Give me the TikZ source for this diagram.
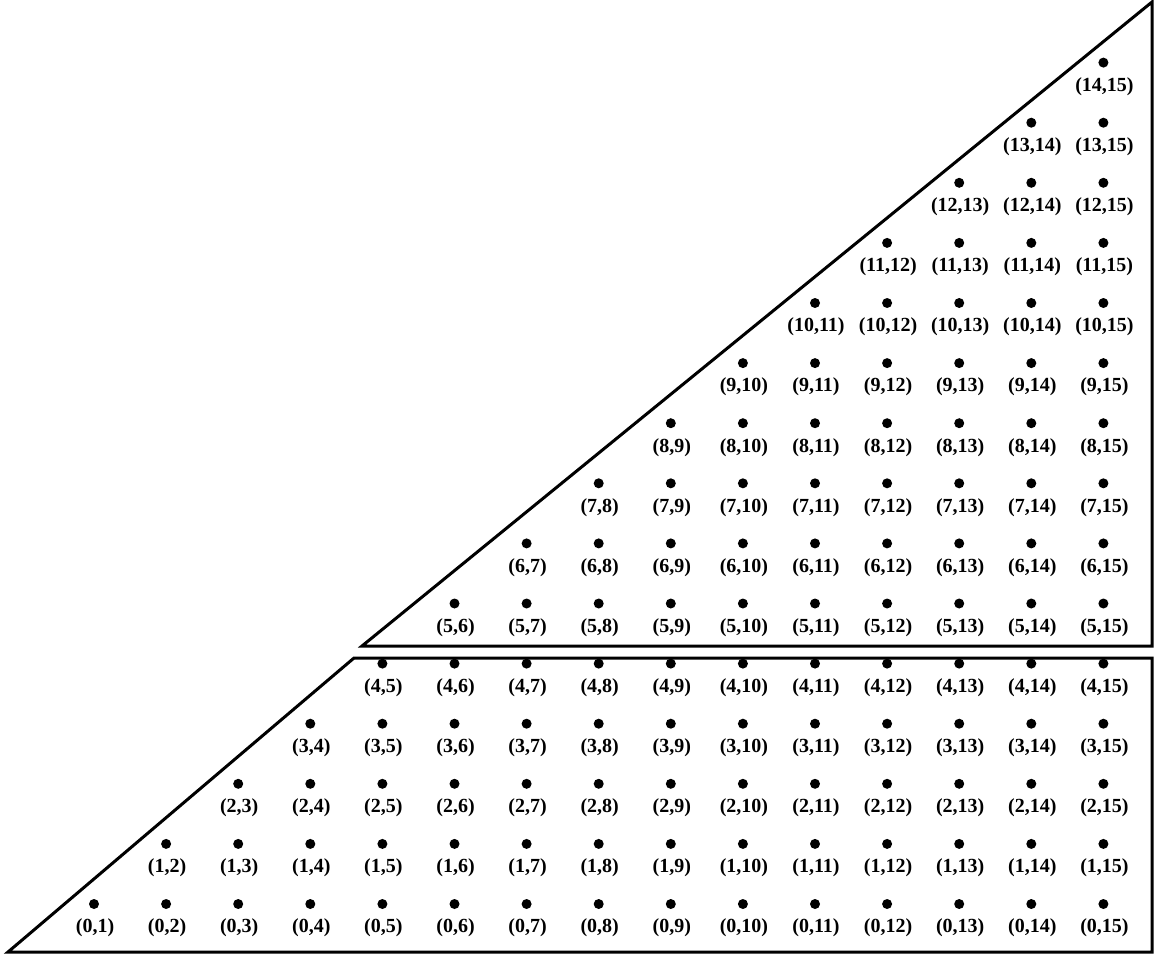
\documentclass[tikz,border=0pt]{standalone}
\usepackage{fontspec}
\setmainfont{Liberation Serif}
\begin{document}
\begin{tikzpicture}[x=1pt,y=-1pt,
  pt/.style={circle,fill=black,inner sep=0pt,minimum size=10pt},
  lab/.style={font=\bfseries\fontsize{20}{20}\selectfont,inner sep=0pt},
  frame/.style={line width=3pt,line join=miter}]
\useasboundingbox (0,0) rectangle (1158,955);
\draw[frame] (1152,2) -- (1152,646) -- (362,646) -- cycle;
\draw[frame] (354,658) -- (1152,658) -- (1152,952) -- (8,952) -- cycle;
\foreach \i in {0,...,14} {
  \pgfmathtruncatemacro\s{\i+1}
  \foreach \j in {\s,...,15} {
    \node[pt] (p\i-\j) at ({94+72.1*(\j-1)},{904-60.1*\i}) {};
    \node[lab] (l\i-\j) at ([xshift=1pt,yshift=-24pt]p\i-\j) {(\i,\j)};
  }
}
\end{tikzpicture}
\end{document}
